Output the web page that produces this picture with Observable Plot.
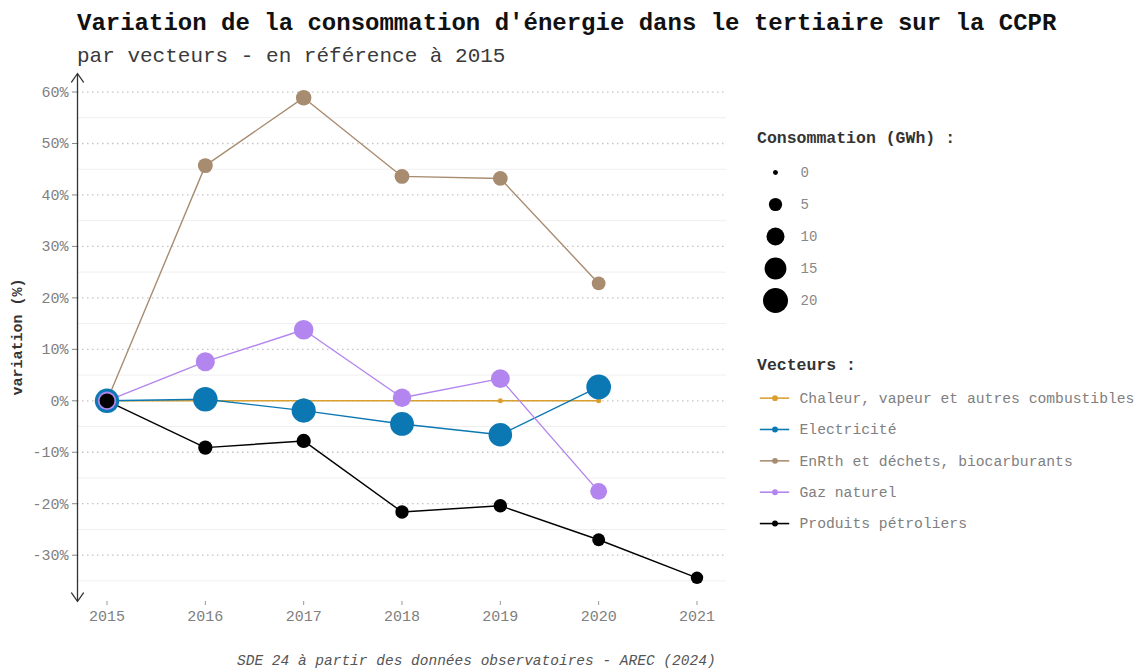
<!DOCTYPE html>
<html><head><meta charset="utf-8">
<script src="https://cdn.jsdelivr.net/npm/d3@7"></script>
<script src="https://cdn.jsdelivr.net/npm/@observablehq/plot@0.6"></script>
<style>
body{margin:0;background:#fff;}
#c{position:relative;width:1142px;height:670px;font-family:"Liberation Mono","DejaVu Sans Mono",monospace;overflow:hidden;background:#fff}
.abs{position:absolute;white-space:nowrap}
.abs svg{display:block}
</style></head><body><div id="c"></div>
<script>
// ---- data ----
const years = [2015, 2016, 2017, 2018, 2019, 2020, 2021];
const vecteurs = ["Chaleur, vapeur et autres combustibles", "Electricité", "EnRth et déchets, biocarburants", "Gaz naturel", "Produits pétroliers"];
const couleurs = ["#d9a030", "#0b78b4", "#a88c70", "#b385ee", "#000000"];
// variation (%) vs 2015
const varChaleur = [0, 0, 0, 0, 0, 0, null];
const varElec    = [0, 0.3, -1.9, -4.5, -6.6, 2.7, null];
const varEnrth   = [0, 45.7, 58.9, 43.6, 43.2, 22.8, null];
const varGaz     = [0, 7.6, 13.8, 0.6, 4.3, -17.6, null];
const varPetro   = [0, -9.1, -7.8, -21.6, -20.4, -27.0, -34.4];
// consommation (GWh)
const consoChaleur = [0, 0, 0, 0, 0, 0, null];
const consoElec    = [19.0, 19.1, 18.6, 18.1, 17.7, 19.5, null];
const consoEnrth   = [4.5, 6.6, 7.2, 6.5, 6.4, 5.5, null];
const consoGaz     = [10.5, 11.3, 11.9, 10.6, 11.0, 8.7, null];
const consoPetro   = [6.5, 5.9, 6.0, 5.1, 5.2, 4.7, 4.3];
const tailleLegende = [0, 5, 10, 15, 20];
const yTicks = [-30, -20, -10, 0, 10, 20, 30, 40, 50, 60];
const yMinor = [-35, -25, -15, -5, 5, 15, 25, 35, 45, 55];

const variations = [varChaleur, varElec, varEnrth, varGaz, varPetro];
const consos = [consoChaleur, consoElec, consoEnrth, consoGaz, consoPetro];
const rows = [];
vecteurs.forEach((v, i) => years.forEach((y, j) => {
  if (variations[i][j] != null) rows.push({vecteur: v, year: y, variation: variations[i][j], conso: consos[i][j]});
}));

// ---- scales ----
const FONT = '"Liberation Mono", "DejaVu Sans Mono", monospace';
const off = 0.8333; // area-linear size scale offset (size at 0 > 0)
const rScale = {type: "sqrt", domain: [0, 20 + off], range: [0, 12.5]};
const xDomain = [2014.7, 2021.3];
const yDomain = [-39, 63.6];
const color = {domain: vecteurs, range: couleurs};

const c = document.getElementById("c");
function place(el, left, top) {
  const d = document.createElement("div");
  d.className = "abs"; d.style.left = left + "px"; d.style.top = top + "px";
  d.appendChild(el); c.appendChild(d); return d;
}
function txt(s, left, top, css) {
  const d = document.createElement("div");
  d.className = "abs"; d.style.left = left + "px"; d.style.top = top + "px";
  d.textContent = s; Object.assign(d.style, css); c.appendChild(d); return d;
}

const main = Plot.plot({
  width: 740, height: 640,
  marginTop: 73, marginBottom: 39, marginLeft: 77, marginRight: 14,
  style: {fontFamily: FONT, fontSize: "15px", color: "#808080", background: "transparent", overflow: "visible"},
  x: {domain: xDomain},
  y: {domain: yDomain},
  color,
  r: rScale,
  marks: [
    Plot.ruleY(yMinor, {stroke: "#efefef", strokeWidth: 1}),
    Plot.ruleY(yTicks, {stroke: "#c4c4c4", strokeDasharray: "1.5,3.5", strokeWidth: 1.3}),
    Plot.axisX({ticks: years, tickFormat: d => String(d), tickSize: 4, tickPadding: 5, stroke: "#999", fill: "#808080", label: null}),
    Plot.axisY({ticks: yTicks, tickFormat: d => d + "%", tickSize: 5, tickPadding: 4, stroke: "#888", fill: "#808080", label: null}),
    Plot.arrow([{a: 0, b: yDomain[1]}, {a: 0, b: yDomain[0]}],
      {x1: () => xDomain[0], x2: () => xDomain[0], y1: "a", y2: "b", stroke: "#333", strokeWidth: 1.3, headLength: 12, headAngle: 70}),
    Plot.line(rows, {x: "year", y: "variation", z: "vecteur", stroke: "vecteur", strokeWidth: 1.4}),
    Plot.dot(rows, {x: "year", y: "variation", r: d => d.conso + off, fill: "vecteur", sort: null})
  ]
});
place(main, 0, 0);

// titles
txt("Variation de la consommation d'énergie dans le tertiaire sur la CCPR", 77, 12,
  {fontSize: "24px", fontWeight: "bold", color: "#111", lineHeight: "24px"});
txt("par vecteurs - en référence à 2015", 77, 46,
  {fontSize: "21px", color: "#3a3a3a", lineHeight: "21px"});
// y axis title
const yl = txt("variation (%)", 18, 337, {fontSize: "15px", fontWeight: "bold", color: "#333", lineHeight: "15px"});
yl.style.transform = "translate(-50%,-50%) rotate(-90deg)";
// caption
txt("SDE 24 à partir des données observatoires - AREC (2024)", 237, 654,
  {fontSize: "14.5px", fontStyle: "italic", color: "#555", lineHeight: "15px"});

// size legend
txt("Consommation (GWh) :", 757, 130, {fontSize: "16.5px", fontWeight: "bold", color: "#333", lineHeight: "18px"});
const sizeLeg = Plot.plot({
  width: 150, height: 170, margin: 0,
  style: {fontFamily: FONT, background: "transparent", overflow: "visible"},
  x: {domain: [0, 1], range: [25, 50], axis: null},
  y: {type: "point", domain: tailleLegende, range: [16, 145], padding: 0, axis: null},
  r: rScale,
  marks: [
    Plot.dot(tailleLegende, {x: () => 0, y: d => d, r: d => d + off, fill: "#000"}),
    Plot.text(tailleLegende, {x: () => 1, y: d => d, text: d => String(d), textAnchor: "start", fill: "#888", fontSize: 14})
  ]
});
place(sizeLeg, 750, 155);

// colour legend
txt("Vecteurs :", 757, 357, {fontSize: "16.5px", fontWeight: "bold", color: "#333", lineHeight: "18px"});
const colLeg = Plot.plot({
  width: 400, height: 165, margin: 0,
  style: {fontFamily: FONT, background: "transparent", overflow: "visible"},
  x: {domain: [0, 2], range: [10, 50], axis: null},
  y: {type: "point", domain: vecteurs, range: [18, 146], padding: 0, axis: null},
  color,
  marks: [
    Plot.ruleY(vecteurs, {y: d => d, x1: () => 0, x2: () => 1.5, stroke: d => d, strokeWidth: 1.6}),
    Plot.dot(vecteurs, {x: () => 0.75, y: d => d, r: 3, fill: d => d}),
    Plot.text(vecteurs, {x: () => 2, y: d => d, text: d => d, textAnchor: "start", fill: "#808080", fontSize: 15})
  ]
});
place(colLeg, 750, 380);
</script></body></html>
